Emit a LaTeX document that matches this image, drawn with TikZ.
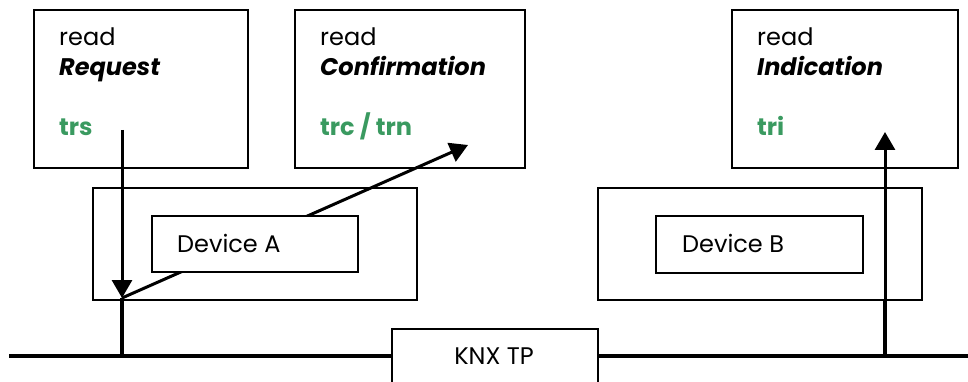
\documentclass[tikz,border=0pt]{standalone}
\usepackage{fontspec}
\setmainfont{Poppins}
\usetikzlibrary{arrows.meta}
\definecolor{knxgreen}{RGB}{58,154,96}
\newcommand{\fs}{\fontsize{24}{28}\selectfont}
\begin{document}
\begin{tikzpicture}[x=1pt,y=-1pt,
  boxn/.style={draw, line width=2.2pt, inner sep=0pt, anchor=north west},
  innerbox/.style={boxn, fill=white},
  txt/.style={anchor=base west, inner sep=0pt, font=\fs},
  emtxt/.style={txt, font=\fs\bfseries\itshape},
  grn/.style={txt, text=knxgreen, font=\fs\bfseries},
  arr/.style={line width=3pt, -{Triangle[length=18pt,width=20pt]}},
  tapline/.style={line width=4.5pt},
  busline/.style={line width=4.5pt}]
\useasboundingbox (0,0) rectangle (968,382);
\clip (0,0) rectangle (968,382);

% service boxes
\node[boxn, minimum width=214pt, minimum height=158pt] (req) at (33,9) {};
\node[boxn, minimum width=230pt, minimum height=158pt] (con) at (294,9) {};
\node[boxn, minimum width=226pt, minimum height=158pt] (ind) at (731,9) {};

\node[txt] (reqr) at (59,46) {read};
\node[emtxt] (reqe) at (59,76) {Request};
\node[grn] (trs) at (59,136) {trs};

\node[txt] (conr) at (320,46) {read};
\node[emtxt] (cone) at (320,76) {Confirmation};
\node[grn] (trc) at (320,136) {trc / trn};

\node[txt] (indr) at (757,46) {read};
\node[emtxt] (inde) at (757,76) {Indication};
\node[grn] (tri) at (757,136) {tri};

% device outer boxes
\node[boxn, minimum width=324pt, minimum height=112pt] (outA) at (92,187) {};
\node[boxn, minimum width=324pt, minimum height=112pt] (outB) at (597,187) {};

% KNX TP box
\node[boxn, minimum width=206pt, minimum height=80pt] (knx) at (391,328) {};
\node[anchor=base, inner sep=0pt, font=\fs] (knxlbl) at (494,364) {KNX TP};

% coordinates
\coordinate (trsS) at (122,130);
\coordinate (tapA) at (122,298);
\coordinate (busA) at (122,356);
\coordinate (trcE) at (468,145);
\coordinate (busB) at (885,356);
\coordinate (tapB) at (885,299);
\coordinate (triE) at (885,132);
\coordinate (busL) at (9,356);
\coordinate (busR) at (968,356);

% bus
\draw[busline] (busL) -- (busL -| knx.west);
\draw[busline] (busR -| knx.east) -- (busR);

% taps and arrows
\draw[tapline] (busA) -- (tapA);
\draw[arr] (trsS) -- (tapA);
\draw[arr] (tapA) -- (trcE);
\draw[tapline] (busB) -- (tapB);
\draw[arr] (tapB) -- (triE);

% inner device boxes (on top of the confirmation line)
\node[innerbox, minimum width=206pt, minimum height=56pt] (devA) at (151,215) {};
\node[txt] (devAl) at (177,252) {Device A};
\node[innerbox, minimum width=207pt, minimum height=57pt] (devB) at (655,215) {};
\node[txt] (devBl) at (682,252) {Device B};
\end{tikzpicture}
\end{document}
